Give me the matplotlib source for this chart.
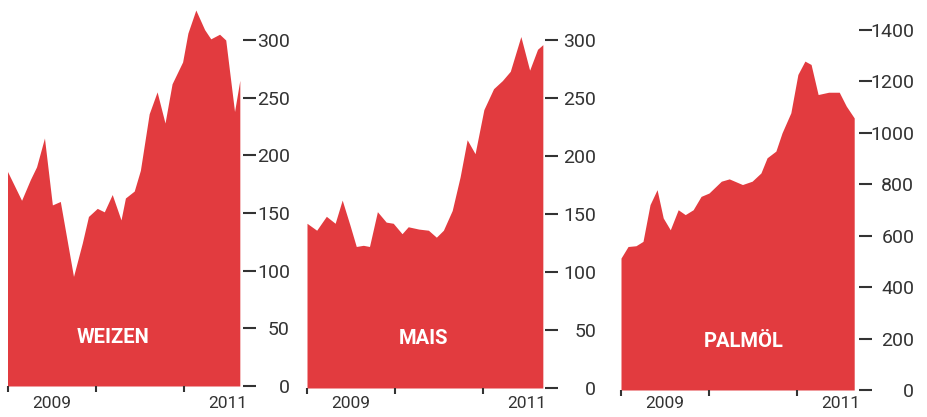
import matplotlib.pyplot as plt

# time in decimal years
weizen_t = [2009.00, 2009.16, 2009.26, 2009.33, 2009.42, 2009.51, 2009.60, 2009.75,
            2009.85, 2009.92, 2010.02, 2010.10, 2010.19, 2010.29, 2010.34, 2010.44,
            2010.51, 2010.61, 2010.70, 2010.79, 2010.87, 2010.99, 2011.05, 2011.14,
            2011.24, 2011.31, 2011.41, 2011.48, 2011.58, 2011.64]
weizen_v = [186, 161, 179, 190, 215, 157, 160, 95,
            124, 147, 154, 151, 166, 144, 163, 169,
            187, 236, 255, 228, 262, 281, 306, 326,
            309, 301, 305, 300, 238, 265]

mais_t = [2009.00, 2009.11, 2009.22, 2009.32, 2009.40, 2009.49, 2009.56, 2009.64,
          2009.71, 2009.80, 2009.90, 2009.98, 2010.08, 2010.15, 2010.27, 2010.38,
          2010.47, 2010.55, 2010.65, 2010.74, 2010.82, 2010.91, 2011.01, 2011.12,
          2011.22, 2011.31, 2011.43, 2011.53, 2011.62, 2011.68]
mais_v = [142, 136, 148, 142, 162, 140, 122, 123,
          122, 152, 143, 142, 133, 139, 137, 136,
          130, 136, 153, 182, 214, 202, 240, 258,
          265, 273, 303, 274, 292, 296]

palm_t = [2009.00, 2009.08, 2009.17, 2009.25, 2009.33, 2009.41, 2009.48, 2009.56,
          2009.65, 2009.73, 2009.82, 2009.91, 2010.00, 2010.14, 2010.23, 2010.38,
          2010.49, 2010.59, 2010.66, 2010.76, 2010.83, 2010.93, 2011.01, 2011.09,
          2011.16, 2011.24, 2011.36, 2011.48, 2011.56, 2011.65]
palm_v = [513, 558, 561, 578, 721, 779, 669, 623,
          701, 682, 701, 753, 766, 812, 821, 799,
          812, 844, 903, 929, 1000, 1078, 1227, 1279,
          1266, 1149, 1158, 1158, 1104, 1058]

names = ["WEIZEN", "MAIS", "PALMÖL"]
y_ticks = [[0, 50, 100, 150, 200, 250, 300],
           [0, 50, 100, 150, 200, 250, 300],
           [0, 200, 400, 600, 800, 1000, 1200, 1400]]
year_ticks = [2009, 2010, 2011]
year_label_pos = [2009.5, 2011.5]
year_labels = ["2009", "2011"]

RED = "#e23b3f"
INK = "#333333"
W, H = 928, 417

fig = plt.figure(figsize=(W / 100, H / 100), dpi=100)
fig.patch.set_facecolor("white")

# pixel layout of each panel: x of 2009, px per year, y of zero, px per unit
layout = [
    dict(x0=7.5, py=88, y0=386, pu=346 / 300, xlim=(2008.97, 2011.68), ylim=(0, 330),
         pad=24, xpad=7, label=(2010.20, 42)),
    dict(x0=307, py=88, y0=388, pu=348 / 300, xlim=(2008.97, 2011.71), ylim=(0, 330),
         pad=27, xpad=5.5, label=(2010.32, 43)),
    dict(x0=621, py=88, y0=390, pu=360 / 1400, xlim=(2008.97, 2011.71), ylim=(0, 1500),
         pad=30, xpad=4, label=(2010.39, 187)),
]
series = [(weizen_t, weizen_v), (mais_t, mais_v), (palm_t, palm_v)]

for i, (t, v) in enumerate(series):
    L = layout[i]
    left = L["x0"] + (L["xlim"][0] - 2009) * L["py"]
    right = L["x0"] + (L["xlim"][1] - 2009) * L["py"]
    top = L["y0"] - L["ylim"][1] * L["pu"]
    ax = fig.add_axes([left / W, 1 - L["y0"] / H, (right - left) / W, (L["y0"] - top) / H])
    ax.set_facecolor("none")

    ax.fill_between(t, v, 0, color=RED, lw=0)
    ax.set_xlim(*L["xlim"])
    ax.set_ylim(*L["ylim"])
    for s in ax.spines.values():
        s.set_visible(False)

    # y axis on the right, dashes then right-aligned numbers
    ax.yaxis.tick_right()
    ax.set_yticks(y_ticks[i])
    ax.tick_params(axis="y", direction="out", length=9.5, width=1.5, color=INK,
                   pad=L["pad"], labelsize=14, labelcolor=INK)
    for lab in ax.get_yticklabels():
        lab.set_horizontalalignment("right")
        lab.set_fontfamily("Roboto")

    # year boundaries as small ticks, labels centred in the year
    ax.set_xticks(year_ticks)
    ax.set_xticklabels([])
    ax.tick_params(axis="x", which="major", direction="out", length=4.5, width=1.5,
                   color=INK)
    ax.set_xticks(year_label_pos, minor=True)
    ax.set_xticklabels(year_labels, minor=True, fontsize=12.5, color=INK,
                       fontfamily="Roboto")
    ax.tick_params(axis="x", which="minor", length=0, pad=L["xpad"])

    ax.text(L["label"][0], L["label"][1], names[i], color="white", fontsize=14.5,
            fontweight="bold", fontfamily="Roboto", ha="center", va="center")

fig.savefig("out.png", dpi=100, facecolor="white")
